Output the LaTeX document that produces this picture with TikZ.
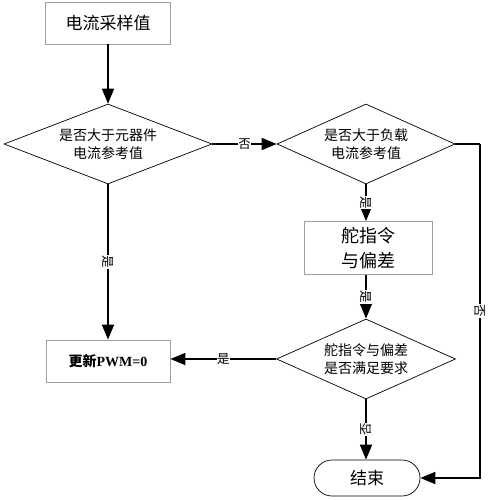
\documentclass[tikz,border=0pt]{standalone}
\usepackage{fontspec}
\setmainfont{Liberation Serif}
\newfontfamily\cjk{Noto Sans CJK SC}
\usetikzlibrary{shapes.geometric,arrows.meta}
\begin{document}
\begin{tikzpicture}[x=1pt,y=-1pt,
  procbox/.style={draw=gray!75,line width=0.8pt,rectangle,inner sep=0pt,font=\cjk\fontsize{17}{20}\selectfont,align=center},
  decide/.style={draw=black,line width=0.7pt,diamond,aspect=2.6,inner sep=0pt,minimum width=#1,minimum height=80pt,font=\cjk\fontsize{14}{18}\selectfont,align=center},
  term/.style={draw=black,line width=0.7pt,rectangle,rounded corners=18pt,minimum width=106pt,minimum height=36pt,inner sep=0pt,font=\cjk\fontsize{17}{20}\selectfont},
  flow/.style={line width=1.8pt,-{Triangle[length=15pt,width=12pt]}},
  lab/.style={fill=white,inner sep=0.5pt,font=\cjk\fontsize{12.5}{14}\selectfont}]
\useasboundingbox (0,0) rectangle (492,500);
\node[procbox,minimum width=125pt,minimum height=42pt] (sample) at (108,23) {电流采样值};
\node[decide=208pt] (d1) at (108,144) {是否大于元器件\\电流参考值};
\node[decide=178pt] (d2) at (366,144) {是否大于负载\\电流参考值};
\node[procbox,minimum width=128pt,minimum height=53pt,font=\cjk\fontsize{18}{25}\selectfont] (cmd) at (368,248) {舵指令\\与偏差};
\node[decide=179pt] (d3) at (366,359) {舵指令与偏差\\是否满足要求};
\node[procbox,minimum width=124pt,minimum height=42pt,font=\cjk\bfseries\fontsize{14}{17}\selectfont] (pwm) at (108,361) {更新{\rmfamily\bfseries PWM=0}};
\node[term] (end) at (367,478) {结束};
\coordinate (rc) at (480,144);
\coordinate (rb) at (480,478);
\draw[flow] (sample.south) -- (d1.north);
\draw[flow] (d1.east) -- node[lab] {否} (d2.west);
\draw[flow] (d1.south) -- node[lab,rotate=-90] {是} (pwm.north);
\draw[flow] (d2.south) -- node[lab,rotate=-90] {是} (cmd.north -| d2.south);
\draw[flow] (cmd.south -| d3.north) -- node[lab,rotate=-90] {是} (d3.north);
\draw[flow] (d3.west) -- node[lab] {是} (pwm.east |- d3.west);
\draw[flow] (d3.south) -- node[lab,rotate=90] {否} (end.north -| d3.south);
\draw[line width=1.8pt] (d2.east) -- (rc);
\draw[flow] (rc) -- node[lab,rotate=-90] {否} (rb) -- (end.east);
\end{tikzpicture}
\end{document}
